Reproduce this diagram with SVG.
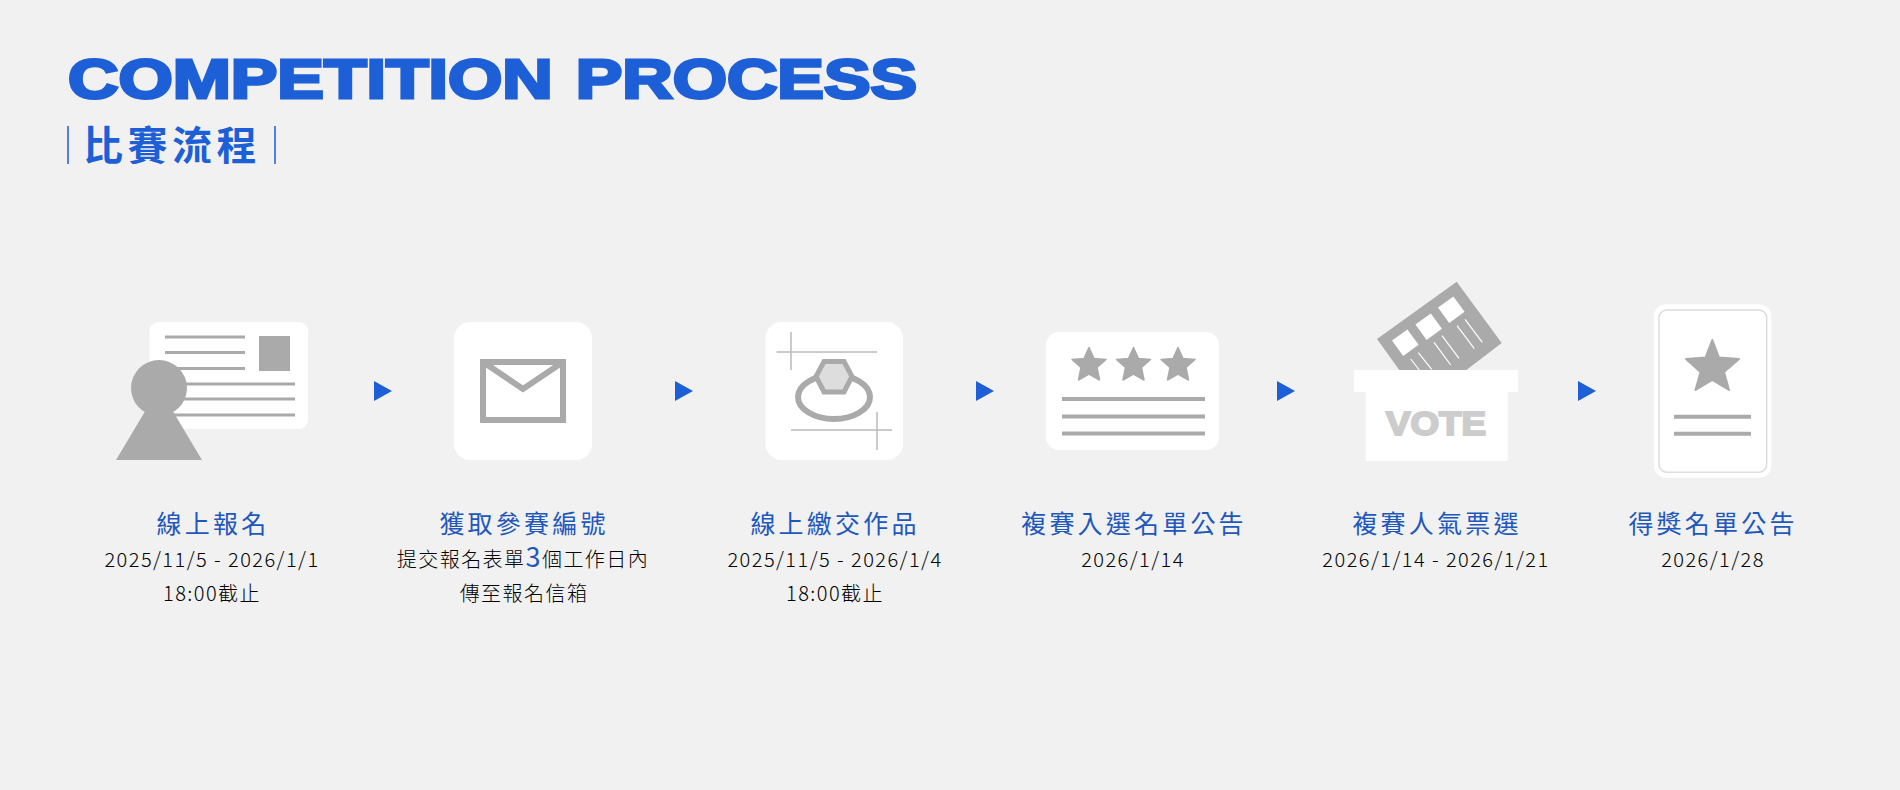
<svg xmlns="http://www.w3.org/2000/svg" width="1900" height="790" viewBox="0 0 1900 790">
<style>
.label{font-family:"Noto Sans CJK TC","Noto Sans CJK JP",sans-serif;font-size:25px;font-weight:400;fill:#1f58bd;letter-spacing:3.2px;text-anchor:middle}
.body{font-family:"Noto Sans CJK TC","Noto Sans CJK JP",sans-serif;font-size:20px;font-weight:300;fill:#000;letter-spacing:1.45px;text-anchor:middle}
.num{font-size:27px;fill:#1f58bd;font-weight:400}
.card{fill:#fff}
.g{fill:#aaa}
.ln{stroke:#aaa;fill:none}
.thin{stroke:#bbb;stroke-width:1.5;fill:none}
.w{stroke:#fff;stroke-width:1.2;fill:none}
.arrow{fill:#1d5fd6}
</style>
<defs>
<path id="star" d="M0-16.5 L5-5.5 L17-4.5 L8 3.5 L10.5 16 L0 10 L-10.5 16 L-8 3.5 L-17-4.5 L-5-5.5Z" fill="#aaa" stroke="#aaa" stroke-width="1.5" stroke-linejoin="round"/>
</defs>
<rect width="1900" height="790" fill="#f1f1f1"/>
<g id="title">
<text x="68" y="98" font-family="Liberation Sans,Arial,sans-serif" font-size="56" font-weight="700" fill="#1d5fd6" stroke="#1d5fd6" stroke-width="3" textLength="849" lengthAdjust="spacingAndGlyphs" word-spacing="3">COMPETITION PROCESS</text>
<text x="83" y="160" font-family="Noto Sans CJK TC,Noto Sans CJK JP,sans-serif" font-size="40" font-weight="700" fill="#1d5fd6" letter-spacing="4.500">比賽流程</text>
<path d="M68 126V164M275 126V164" stroke="#1d5fd6" stroke-width="1.5" fill="none"/>
</g>
<g id="connectors">
<path class="arrow" d="M374 381L392 391L374 401Z"/>
<path class="arrow" d="M675 381L693 391L675 401Z"/>
<path class="arrow" d="M976 381L994 391L976 401Z"/>
<path class="arrow" d="M1277 381L1295 391L1277 401Z"/>
<path class="arrow" d="M1578 381L1596 391L1578 401Z"/>
</g>
<g id="node-1">
<rect class="card" x="149.500" y="322" width="158.500" height="107" rx="9"/>
<path class="ln" stroke-width="3" d="M165 337H245M165 352.500H245M165 368.500H245M170 384H295M170 399H295M170 415H295"/>
<rect class="g" x="259" y="336" width="31" height="35"/>
<circle class="g" cx="159" cy="388" r="28"/>
<path class="g" d="M159 388L202 460H116Z"/>
<text class="label" x="213" y="533">線上報名</text>
<text class="body" x="212" y="567">2025/11/5 - 2026/1/1</text>
<text class="body" x="212" y="601">18:00截止</text>
</g>
<g id="node-2">
<rect class="card" x="454" y="322" width="138" height="138" rx="16"/>
<rect class="ln" stroke-width="6" x="483" y="362" width="80" height="58"/>
<path class="ln" stroke-width="6" d="M483 362L523 389L563 362"/>
<text class="label" x="524" y="533">獲取參賽編號</text>
<text class="body" x="523" y="567">提交報名表單<tspan class="num">3</tspan>個工作日內</text>
<text class="body" x="524" y="601">傳至報名信箱</text>
</g>
<g id="node-3">
<rect class="card" x="765.500" y="322" width="137.500" height="138" rx="16"/>
<path class="thin" d="M791 332V370M776.500 352H877M791 430H892M877 412V450"/>
<ellipse class="ln" stroke-width="6" cx="834" cy="397" rx="36" ry="22"/>
<path d="M824 361.500H844L852 376.500L844 392H824L816 376.500Z" fill="#ddd" stroke="#aaa" stroke-width="5"/>
<text class="label" x="835" y="533">線上繳交作品</text>
<text class="body" x="835" y="567">2025/11/5 - 2026/1/4</text>
<text class="body" x="835" y="601">18:00截止</text>
</g>
<g id="node-4">
<rect class="card" x="1046" y="332" width="173" height="118" rx="13"/>
<use href="#star" x="1089" y="364"/>
<use href="#star" x="1133.500" y="364"/>
<use href="#star" x="1178" y="364"/>
<path class="ln" stroke-width="4" d="M1062 399H1205M1062 416.500H1205M1062 433.500H1205"/>
<text class="label" x="1134" y="533">複賽入選名單公告</text>
<text class="body" x="1133" y="567">2026/1/14</text>
</g>
<g id="node-5">
<path class="g" d="M1456.700 281.700L1501.700 343L1465 371H1400L1377 339Z"/>
<g fill="#fff">
<rect x="-9.500" y="-9.500" width="19" height="19" transform="translate(1405.300 342.700) rotate(-36)"/>
<rect x="-9.500" y="-9.500" width="19" height="19" transform="translate(1428.700 326.700) rotate(-36)"/>
<rect x="-9.500" y="-9.500" width="19" height="19" transform="translate(1451.300 309.700) rotate(-36)"/>
</g>
<path class="w" d="M1410.700 359L1419.300 370M1418.300 352.700L1431.700 369.300M1434 342.300L1450.700 365M1442 335.700L1459 358.300M1457 325.700L1474.300 348.700M1465 319.300L1482.300 342.300"/>
<rect class="card" x="1354" y="370" width="164" height="22"/>
<rect class="card" x="1365.700" y="392" width="142" height="69"/>
<text x="1386" y="435" font-family="Liberation Sans,Arial,sans-serif" font-size="33" font-weight="700" fill="#ccc" stroke="#ccc" stroke-width="2" textLength="100" lengthAdjust="spacingAndGlyphs">VOTE</text>
<text class="label" x="1437" y="533">複賽人氣票選</text>
<text class="body" x="1436" y="567">2026/1/14 - 2026/1/21</text>
</g>
<g id="node-6">
<rect class="card" x="1654" y="304.300" width="117.300" height="173.400" rx="12"/>
<rect x="1659" y="310" width="107.700" height="162.300" rx="8" fill="#fff" stroke="#ddd" stroke-width="1.500"/>
<path d="M1712.300 340L1719 357.500L1739 359L1724 372L1729 390L1712.300 380L1695.500 390L1700.500 372L1686 359L1705.500 357.500Z" fill="#aaa" stroke="#aaa" stroke-width="2" stroke-linejoin="round"/>
<path class="ln" stroke-width="4" d="M1674 416.700H1751M1674 433.700H1751"/>
<text class="label" x="1713" y="533">得獎名單公告</text>
<text class="body" x="1713" y="567">2026/1/28</text>
</g>
</svg>
